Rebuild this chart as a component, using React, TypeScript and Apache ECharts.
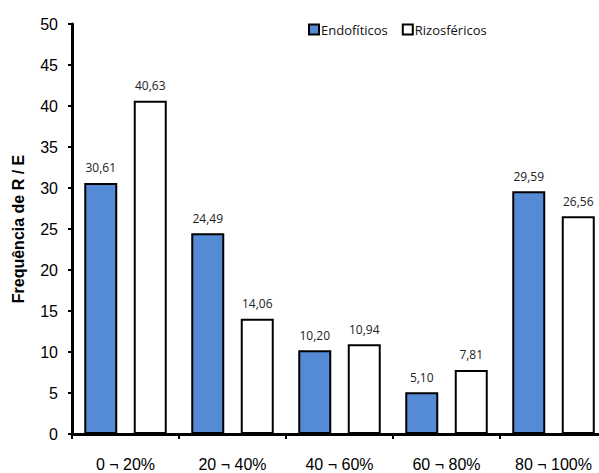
import React, { useEffect, useRef } from "react";
import * as echarts from "echarts";

const categories = ["0 ¬ 20%", "20 ¬ 40%", "40 ¬ 60%", "60 ¬ 80%", "80 ¬ 100%"];
const endofiticos = [30.61, 24.49, 10.2, 5.1, 29.59];
const rizosfericos = [40.63, 14.06, 10.94, 7.81, 26.56];
const yTicks = { min: 0, max: 50, interval: 5 };

const labelFont = "'Open Sans', 'Noto Sans', sans-serif";
const axisFont = "'Liberation Sans', Arial, sans-serif";

export default function App() {
  const ref = useRef<HTMLDivElement>(null);

  useEffect(() => {
    if (!ref.current) return;
    const chart = echarts.init(ref.current, undefined, { renderer: "svg" });
    const valueLabel = {
      show: true,
      position: "top" as const,
      distance: 9,
      fontFamily: labelFont,
      fontSize: 12,
      color: "#222",
      formatter: (p: any) => Number(p.value).toFixed(2).replace(".", ","),
    };
    chart.setOption({
      animation: false,
      backgroundColor: "#fff",
      grid: { left: 72, right: -8, top: 24, bottom: 39, outerBoundsMode: "none", containLabel: false },
      legend: {
        left: 303,
        top: 18,
        itemWidth: 10,
        itemHeight: 10,
        itemGap: 14,
        icon: "rect",
        textStyle: { fontFamily: labelFont, fontSize: 13, color: "#111", padding: [0, 0, 0, -3] },
        data: ["Endofíticos", "Rizosféricos"],
      },
      xAxis: {
        type: "category",
        data: categories,
        axisLine: { lineStyle: { color: "#000", width: 3 } },
        axisTick: { show: true, length: 5, lineStyle: { color: "#000", width: 2 } },
        axisLabel: { margin: 22, fontFamily: axisFont, fontSize: 16, color: "#000" },
      },
      yAxis: {
        type: "value",
        min: yTicks.min,
        max: yTicks.max,
        interval: yTicks.interval,
        name: "Frequência de R / E",
        nameLocation: "middle",
        nameGap: 46,
        nameTextStyle: { fontFamily: axisFont, fontSize: 16, fontWeight: "bold", color: "#000" },
        splitLine: { show: false },
        axisLine: { show: true, lineStyle: { color: "#000", width: 3 } },
        axisTick: { show: true, length: 4, lineStyle: { color: "#000", width: 2 } },
        axisLabel: { margin: 14, fontFamily: axisFont, fontSize: 16, color: "#000" },
      },
      series: [
        {
          name: "Endofíticos",
          type: "bar",
          data: endofiticos,
          barWidth: 33,
          barGap: "50%",
          itemStyle: { color: "#558ad4", borderColor: "#000", borderWidth: 2 },
          label: valueLabel,
        },
        {
          name: "Rizosféricos",
          type: "bar",
          data: rizosfericos,
          barWidth: 33,
          itemStyle: { color: "#fff", borderColor: "#000", borderWidth: 2 },
          label: valueLabel,
        },
      ],
    });
    return () => chart.dispose();
  }, []);

  return <div ref={ref} style={{ width: 599, height: 473, position: "absolute", left: 0, top: 0 }} />;
}
